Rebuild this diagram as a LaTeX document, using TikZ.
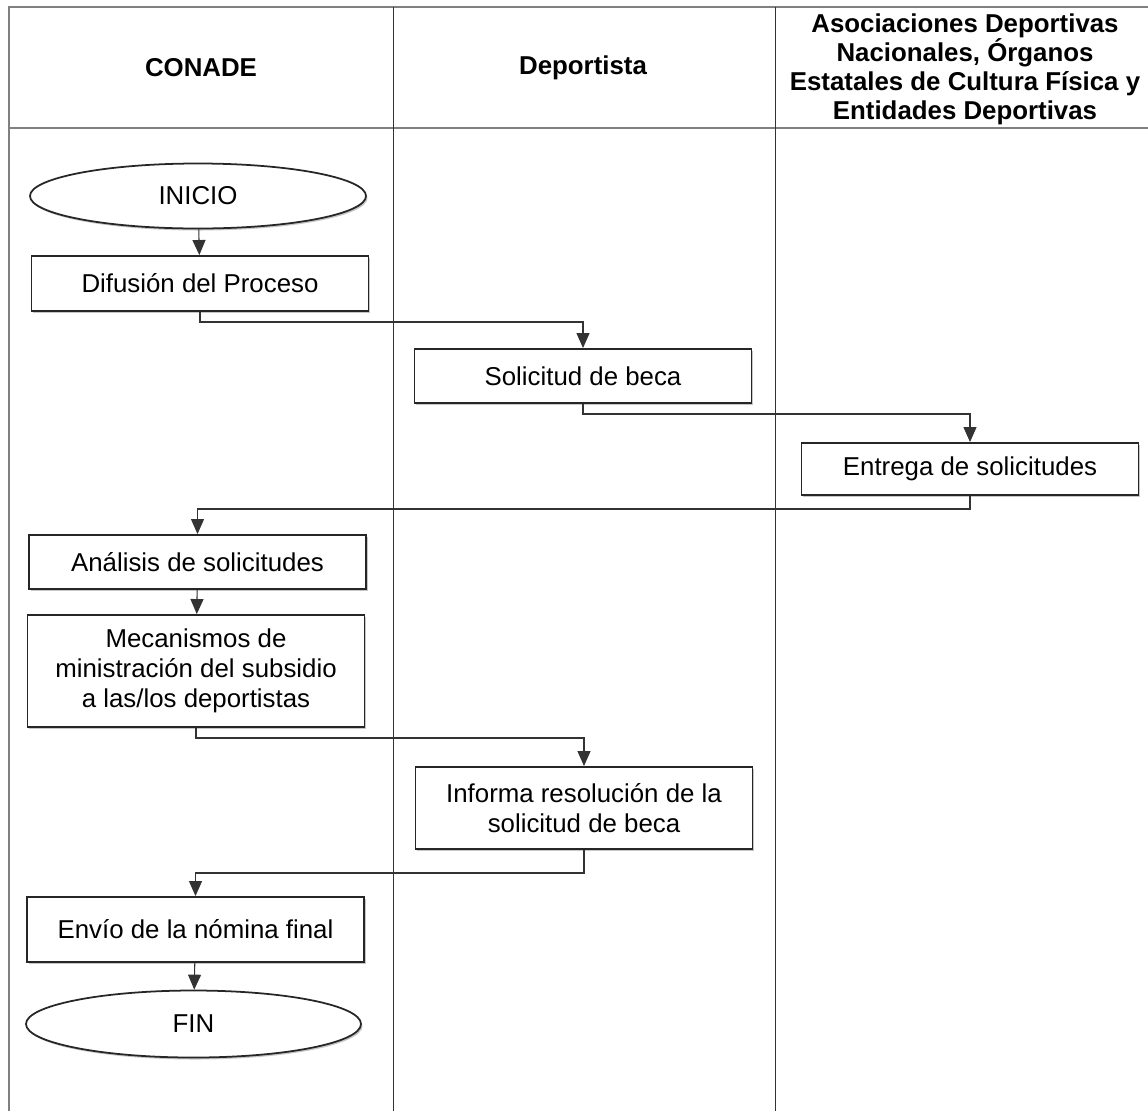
\documentclass[tikz,border=0pt]{standalone}
\usepackage{fontspec}
\setmainfont{Liberation Sans}
\usetikzlibrary{shapes.geometric,arrows.meta,shadows}

\begin{document}
\begin{tikzpicture}[scale=1]
	\tikzstyle{frame_line} = [draw=gray, line width=1.2pt]
	\tikzstyle{lane_line} = [draw=black!80, line width=0.5pt]
	\tikzstyle{header} = [align=center, font=\fontsize{14.7}{16.5}\selectfont\bfseries]
	\tikzstyle{soft_shadow} = [drop shadow={shadow xshift=0.03cm, shadow yshift=-0.04cm, fill=gray, opacity=0.45}]
	\tikzstyle{terminal} = [ellipse, draw=black!85, fill=white, line width=1pt, inner sep=0pt, minimum width=6.72cm, minimum height=1.3cm, font=\fontsize{14.7}{17}\selectfont, soft_shadow]
	\tikzstyle{task_box} = [rectangle, draw=black!85, fill=white, line width=1.1pt, inner sep=0pt, minimum width=6.74cm, align=center, font=\fontsize{14.7}{17}\selectfont, soft_shadow]
	\tikzstyle{flow} = [-{Triangle[length=3mm, width=2.6mm]}, draw=black!80, line width=0.6pt]

	\useasboundingbox (0,0) rectangle (22.96,-22.22);

%------------------------------------------------------------
	\draw[frame_line] (0.18,-22.22) -- (0.18,-0.14) -- (22.96,-0.14);
	\draw[frame_line] (0.18,-2.56) -- (22.96,-2.56);
	\draw[lane_line] (7.86,-0.14) -- (7.86,-22.22);
	\draw[lane_line] (15.5,-0.14) -- (15.5,-22.22);

	\node[header] (h_conade)      at (4.02,-1.36) {CONADE};
	\node[header] (h_deportista)  at (11.66,-1.36) {Deportista};
	\node[header] (h_asociaciones) at (19.3,-1.38) {Asociaciones Deportivas\\Nacionales, Órganos\\Estatales de Cultura Física y\\Entidades Deportivas};

%------------------------------------------------------------
	\node[terminal] (inicio)   at (3.96,-3.92) {INICIO};
	\node[task_box, minimum height=1.1cm]  (difusion)  at (4.0,-5.67) {Difusión del Proceso};
	\node[task_box, minimum height=1.08cm] (solicitud) at (11.66,-7.52) {Solicitud de beca};
	\node[task_box, minimum height=1.04cm] (entrega)   at (19.4,-9.38) {Entrega de solicitudes};
	\node[task_box, minimum height=1.08cm] (analisis)  at (3.95,-11.24) {Análisis de solicitudes};
	\node[task_box, minimum height=2.24cm] (mecanismos) at (3.92,-13.42) {Mecanismos de\\ministración del subsidio\\a las/los deportistas};
	\node[task_box, minimum height=1.64cm] (informa)   at (11.68,-16.16) {Informa resolución de la\\solicitud de beca};
	\node[task_box, minimum height=1.3cm]  (envio)     at (3.91,-18.59) {Envío de la nómina final};
	\node[terminal, minimum width=6.7cm, minimum height=1.34cm] (fin) at (3.87,-20.48) {FIN};

%------------------------------------------------------------
	\draw[flow] (inicio) -- (difusion);
	\draw[flow] (difusion.south) -- ++(0,-0.2) -| (solicitud.north);
	\draw[flow] (solicitud.south) -- ++(0,-0.2) -| (entrega.north);
	\draw[flow] (entrega.south) -- ++(0,-0.26) -| (analisis.north);
	\draw[flow] (analisis) -- (mecanismos);
	\draw[flow] (mecanismos.south) -- ++(0,-0.2) -| (informa.north);
	\draw[flow] (informa.south) -- ++(0,-0.46) -| (envio.north);
	\draw[flow] (envio) -- (fin);

\end{tikzpicture}
\end{document}
